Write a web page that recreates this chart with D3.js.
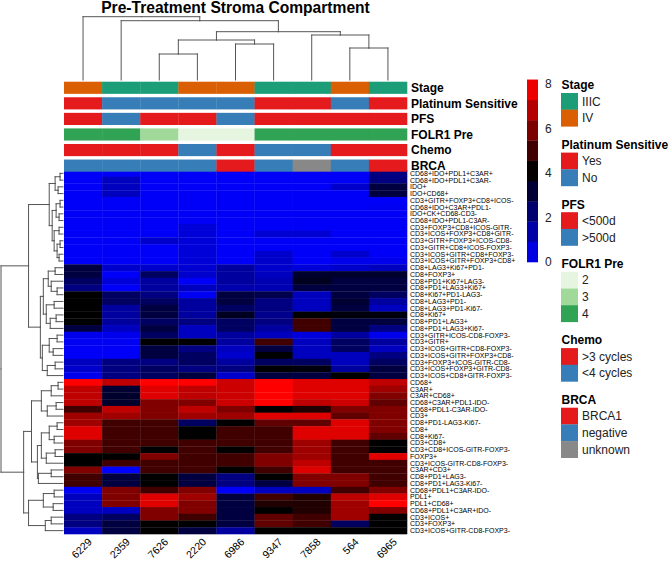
<!DOCTYPE html>
<html>
<head>
<meta charset="utf-8">
<script src="https://cdn.jsdelivr.net/npm/d3@7"></script>
<style>
  body { margin: 0; background: #fff; }
  svg { font-family: "Liberation Sans", Arial, sans-serif; }
</style>
</head>
<body>
<div id="chart"></div>
<script>
// Data
const colNames = ["6229", "2359", "7626", "2220", "6986", "9347", "7858", "564", "6965"];

const rowNames = [
  "CD68+IDO+PDL1+C3AR+", "CD68+IDO+PDL1+C3AR-", "IDO+", "IDO+CD68+",
  "CD3+GITR+FOXP3+CD8+ICOS-", "CD68+IDO+C3AR+PDL1-", "IDO+CK+CD68-CD3-",
  "CD68+IDO+PDL1-C3AR-", "CD3+FOXP3+CD8+ICOS-GITR-", "CD3+ICOS+FOXP3+CD8+GITR-",
  "CD3+GITR+FOXP3+ICOS-CD8-", "CD3+GITR+CD8+ICOS-FOXP3-", "CD3+ICOS+GITR+CD8+FOXP3-",
  "CD3+ICOS+GITR+FOXP3+CD8+", "CD8+LAG3+Ki67+PD1-", "CD8+FOXP3+", "CD8+PD1+Ki67+LAG3-",
  "CD8+PD1+LAG3+Ki67+", "CD8+Ki67+PD1-LAG3-", "CD8+LAG3+PD1-", "CD8+LAG3+PD1-Ki67-",
  "CD8+Ki67+", "CD8+PD1+LAG3+", "CD8+PD1+LAG3+Ki67-", "CD3+GITR+ICOS-CD8-FOXP3-",
  "CD3+GITR+", "CD3+ICOS+GITR+CD8-FOXP3-", "CD3+ICOS+GITR+FOXP3+CD8-",
  "CD3+FOXP3+ICOS-GITR-CD8-", "CD3+ICOS+FOXP3+GITR-CD8-", "CD3+ICOS+CD8+GITR-FOXP3-",
  "CD68+", "C3AR+", "C3AR+CD68+", "CD68+C3AR+PDL1-IDO-", "CD68+PDL1-C3AR-IDO-",
  "CD3+", "CD8+PD1-LAG3-Ki67-", "CD8+", "CD8+Ki67-", "CD3+CD8+",
  "CD3+CD8+ICOS-GITR-FOXP3-", "FOXP3+", "CD3+ICOS-GITR-CD8-FOXP3-", "C3AR+CD3+",
  "CD8+PD1+LAG3-", "CD8+PD1+LAG3-Ki67-", "CD68+PDL1+C3AR-IDO-", "PDL1+", "PDL1+CD68+",
  "CD68+PDL1+C3AR+IDO-", "CD3+ICOS+", "CD3+FOXP3+", "CD3+ICOS+GITR-CD8-FOXP3-"
];

// one array per row, columns in colNames order
const values = [
  [0.1, 0.1, 0.1, 0.1, 0.1, 0.1, 0.1, 0.1, 2.0],
  [0.1, 1.0, 0.1, 0.1, 0.1, 0.1, 0.1, 0.1, 2.0],
  [0.1, 1.0, 0.1, 0.1, 0.1, 0.1, 0.1, 0.8, 3.0],
  [0.1, 1.0, 0.1, 0.1, 0.1, 0.1, 0.1, 0.1, 3.0],
  [0.1, 0.1, 0.1, 0.1, 0.1, 0.1, 0.1, 0.1, 0.1],
  [0.1, 0.1, 0.1, 0.1, 0.1, 0.1, 0.1, 0.1, 0.2],
  [0.1, 0.1, 0.1, 0.1, 0.1, 0.1, 0.1, 0.1, 0.1],
  [0.1, 0.1, 0.1, 0.1, 0.1, 0.1, 0.1, 0.1, 0.1],
  [0.1, 0.1, 0.1, 0.6, 0.1, 0.1, 0.1, 0.1, 0.1],
  [0.1, 0.1, 0.1, 0.6, 0.1, 0.7, 0.7, 0.1, 0.1],
  [0.1, 0.1, 0.8, 0.6, 0.1, 0.1, 0.1, 0.1, 0.1],
  [0.1, 0.1, 0.1, 0.6, 0.1, 0.1, 0.1, 0.1, 0.1],
  [0.1, 0.1, 0.1, 0.6, 0.1, 0.8, 0.1, 0.8, 0.1],
  [0.1, 0.1, 0.1, 0.6, 0.1, 0.8, 0.1, 0.3, 0.3],
  [3.0, 0.8, 0.8, 0.7, 1.5, 0.8, 0.6, 0.8, 1.0],
  [3.0, 0.1, 2.5, 0.8, 1.5, 1.0, 3.3, 3.3, 3.3],
  [2.5, 0.6, 1.5, 0.1, 1.5, 1.2, 3.5, 3.0, 3.0],
  [2.0, 0.1, 1.5, 1.0, 1.3, 1.2, 3.0, 3.0, 3.0],
  [4.0, 2.5, 2.0, 0.2, 3.0, 2.8, 1.0, 3.0, 2.5],
  [4.0, 2.5, 2.5, 1.5, 3.0, 2.0, 1.0, 3.2, 1.5],
  [4.0, 1.5, 3.0, 1.5, 2.5, 2.0, 1.0, 3.0, 1.0],
  [4.0, 1.5, 3.0, 1.5, 3.5, 1.8, 4.0, 3.8, 3.8],
  [4.0, 1.5, 2.5, 2.0, 2.5, 2.0, 5.0, 3.0, 3.0],
  [3.0, 1.0, 3.0, 1.0, 2.5, 1.5, 5.0, 3.0, 2.0],
  [0.3, 0.3, 2.5, 1.0, 1.5, 1.0, 0.5, 1.5, 0.3],
  [0.2, 0.2, 4.0, 4.0, 1.5, 5.0, 1.0, 2.5, 1.5],
  [0.1, 0.1, 3.0, 2.0, 1.0, 3.0, 1.0, 2.5, 1.0],
  [0.1, 0.1, 3.0, 2.5, 0.8, 4.0, 1.0, 1.0, 2.0],
  [1.0, 2.0, 2.0, 2.5, 1.5, 2.5, 2.5, 1.0, 2.5],
  [0.8, 2.0, 2.5, 2.0, 2.0, 4.0, 3.8, 1.5, 3.0],
  [0.3, 2.0, 2.5, 3.0, 0.8, 3.0, 3.0, 4.0, 3.0],
  [8.0, 7.0, 8.0, 8.0, 7.2, 8.0, 7.5, 7.5, 7.0],
  [7.0, 3.2, 7.5, 7.0, 7.2, 8.0, 7.5, 7.5, 6.5],
  [7.0, 3.3, 7.5, 7.0, 7.2, 8.0, 7.5, 7.5, 6.0],
  [7.0, 3.3, 6.0, 6.0, 7.2, 8.0, 7.0, 7.2, 5.5],
  [5.0, 7.0, 6.0, 7.0, 6.0, 4.0, 4.5, 6.0, 6.0],
  [6.5, 6.5, 6.0, 6.5, 6.5, 7.5, 7.5, 5.5, 6.0],
  [6.5, 5.0, 5.0, 2.5, 4.0, 5.5, 5.5, 7.5, 6.0],
  [7.5, 5.0, 5.0, 4.0, 5.0, 5.0, 7.5, 7.5, 6.0],
  [7.5, 5.0, 5.0, 4.0, 5.0, 5.0, 7.5, 7.5, 5.5],
  [6.0, 5.0, 5.0, 5.0, 5.0, 5.0, 6.5, 5.0, 4.0],
  [6.0, 5.0, 4.0, 5.0, 4.0, 5.0, 6.5, 5.0, 4.0],
  [4.0, 4.0, 6.0, 5.0, 5.0, 6.0, 6.5, 5.0, 7.5],
  [4.0, 5.0, 5.0, 5.0, 5.0, 6.0, 7.0, 5.0, 5.0],
  [6.0, 0.0, 5.0, 5.0, 4.0, 5.0, 7.5, 5.0, 5.0],
  [5.0, 3.0, 4.0, 3.0, 2.0, 4.0, 6.0, 6.0, 5.0],
  [5.0, 3.0, 4.0, 3.0, 2.0, 3.0, 6.0, 6.0, 5.0],
  [0.2, 6.0, 5.0, 6.0, 0.1, 1.0, 1.0, 5.0, 6.0],
  [1.0, 6.0, 7.5, 6.5, 3.0, 5.0, 4.5, 7.0, 7.5],
  [1.0, 6.0, 7.5, 6.0, 3.0, 4.5, 4.5, 6.5, 8.0],
  [1.0, 1.0, 6.0, 6.0, 3.0, 4.0, 4.5, 6.5, 6.0],
  [2.0, 2.5, 6.0, 5.0, 3.0, 5.5, 5.0, 6.5, 4.0],
  [2.0, 3.0, 4.0, 4.0, 3.0, 5.5, 5.0, 2.5, 4.0],
  [1.0, 3.0, 4.0, 3.0, 1.5, 4.0, 4.0, 4.0, 4.0]
];

// column annotations (same order as colNames)
const stage = ["IV", "IIIC", "IIIC", "IV", "IV", "IIIC", "IIIC", "IV", "IIIC"];
const platinum = ["Yes", "No", "No", "No", "No", "Yes", "Yes", "No", "Yes"];
const pfs = ["<500d", ">500d", "<500d", "<500d", ">500d", "<500d", "<500d", "<500d", "<500d"];
const folr1 = ["4", "4", "3", "2", "2", "4", "4", "4", "4"];
const chemo = [">3 cycles", ">3 cycles", ">3 cycles", "<4 cycles", ">3 cycles", "<4 cycles", "<4 cycles", ">3 cycles", ">3 cycles"];
const brca = ["negative", "negative", "negative", "negative", "BRCA1", "negative", "unknown", "negative", "BRCA1"];

// dendrograms: [height, left, right], leaves are indices
const colTree = [63.3, 0, [59.3, 1, [48.3, [40, [26, 2, 3], [36, 4, 5]], [45, 6, [32, 7, 8]]]]];
const rowTree = [63,
  [35,
    [14,
      [8, [3, 0, 1], [5, 2, 3]],
      [11, [7, [3, 4, 5], [4, 6, 7]], [9, [4, 8, 9], [6, [3, 10, 11], [4, 12, 13]]]]],
    [23,
      [20, [15, [8, 14, 15], [12, 16, [6, 17, 18]]], [17, [9, 19, 20], [13, [7, 21, 22], 23]]],
      [21, [14, [6, 24, 25], [10, 26, 27]], [16, [8, 28, 29], 30]]]],
  [40,
    [32,
      [22, [12, [5, 31, 32], 33], [16, [7, 34, 35], 36]],
      [26, [22, [14, [6, 37, 38], [9, 39, 40]], [17, [8, 41, 42], 43]], [25, [12, 44, 45], 46]]],
    [35, [20, [9, 47, 48], [10, 49, 50]], [18, [12, 51, 52], 53]]]];

const legendTicks = [0, 2, 4, 6, 8];

// colours
const annColors = {
  "Stage": { "IIIC": "#1b9e77", "IV": "#d95f02" },
  "Platinum Sensitive": { "Yes": "#e41a1c", "No": "#377eb8" },
  "PFS": { "<500d": "#e41a1c", ">500d": "#377eb8" },
  "FOLR1 Pre": { "2": "#e5f5e0", "3": "#a1d99b", "4": "#31a354" },
  "Chemo": { ">3 cycles": "#e41a1c", "<4 cycles": "#377eb8" },
  "BRCA": { "BRCA1": "#e41a1c", "negative": "#377eb8", "unknown": "#888888" }
};
const annotations = [
  ["Stage", stage], ["Platinum Sensitive", platinum], ["PFS", pfs],
  ["FOLR1 Pre", folr1], ["Chemo", chemo], ["BRCA", brca]
];

const width = 669, height = 562;
const hm = { left: 64, right: 407, top: 170, bottom: 534 };

const svg = d3.select("#chart").append("svg")
  .attr("width", width).attr("height", height);

svg.append("rect").attr("width", width).attr("height", height).attr("fill", "#fff");

// scales
const x = d3.scaleBand().domain(d3.range(colNames.length)).range([hm.left, hm.right]);
const y = d3.scaleBand().domain(d3.range(rowNames.length)).range([hm.top, hm.bottom]);
const color = d3.scaleLinear().domain([0, 4, 8]).range(["#0000ff", "#000000", "#ff0000"]).clamp(true);

// title
svg.append("text")
  .attr("x", (hm.left + hm.right) / 2).attr("y", 12.5)
  .attr("text-anchor", "middle")
  .attr("font-size", 15.6).attr("font-weight", "bold")
  .text("Pre-Treatment Stroma Compartment");

// heatmap cells
const cells = [];
values.forEach((row, i) => row.forEach((v, j) => cells.push({ i, j, v })));
svg.append("g").selectAll("rect").data(cells).join("rect")
  .attr("x", d => x(d.j)).attr("y", d => y(d.i))
  .attr("width", x.bandwidth() + 0.3).attr("height", y.bandwidth() + 0.3)
  .attr("fill", d => color(d.v));

// row labels
svg.append("g").selectAll("text").data(rowNames).join("text")
  .attr("x", hm.right + 3)
  .attr("y", (d, i) => y(i) + y.bandwidth() / 2)
  .attr("dy", "0.35em")
  .attr("font-size", 7)
  .text(d => d);

// column labels
svg.append("g").selectAll("text").data(colNames).join("text")
  .attr("transform", (d, j) => `translate(${x(j) + x.bandwidth() / 2 + 4},${hm.bottom + 3}) rotate(-45)`)
  .attr("text-anchor", "end")
  .attr("dy", "0.75em")
  .attr("font-size", 10.5)
  .text(d => d);

// annotation bars
const annY = d3.scaleBand().domain(d3.range(annotations.length)).range([81.7, 81.7 + 15 * annotations.length]).paddingInner(0.22);
annotations.forEach(([name, vals], k) => {
  const g = svg.append("g");
  g.selectAll("rect").data(vals).join("rect")
    .attr("x", (d, j) => x(j)).attr("y", annY(k))
    .attr("width", x.bandwidth() + 0.3).attr("height", annY.bandwidth())
    .attr("fill", d => annColors[name][d]);
  g.append("text")
    .attr("x", hm.right + 4).attr("y", annY(k) + annY.bandwidth() / 2)
    .attr("dy", "0.36em")
    .attr("font-size", 12).attr("font-weight", "bold")
    .text(name);
});

// dendrogram helpers
function layout(node, pos) {
  if (typeof node === "number") return { h: 0, p: pos(node) };
  const a = layout(node[1], pos), b = layout(node[2], pos);
  return { h: node[0], p: (a.p + b.p) / 2, kids: [a, b] };
}
function segments(n, out) {
  if (!n.kids) return out;
  n.kids.forEach(k => {
    out.push({ h0: n.h, p0: k.p, h1: n.h, p1: n.p });   // spine half
    out.push({ h0: n.h, p0: k.p, h1: k.h, p1: k.p });   // arm
    segments(k, out);
  });
  return out;
}

// column dendrogram
const colRoot = layout(colTree, j => x(j) + x.bandwidth() / 2);
const colH = d3.scaleLinear().domain([0, colTree[0]]).range([80, 16.7]);
svg.append("g").selectAll("line").data(segments(colRoot, [])).join("line")
  .attr("x1", d => d.p0).attr("x2", d => d.p1)
  .attr("y1", d => colH(d.h0)).attr("y2", d => colH(d.h1))
  .attr("stroke", "#555").attr("stroke-width", 1).attr("stroke-linecap", "square");

// row dendrogram
const rowRoot = layout(rowTree, i => y(i) + y.bandwidth() / 2);
const rowH = d3.scaleLinear().domain([0, rowTree[0]]).range([hm.left - 1, 1]);
svg.append("g").selectAll("line").data(segments(rowRoot, [])).join("line")
  .attr("y1", d => d.p0).attr("y2", d => d.p1)
  .attr("x1", d => rowH(d.h0)).attr("x2", d => rowH(d.h1))
  .attr("stroke", "#555").attr("stroke-width", 1).attr("stroke-linecap", "square");

// colour bar legend
const legY = d3.scaleLinear().domain([0, 8]).range([262, 84]);
const legMax = 8.2, nBands = 9;
const bands = d3.range(nBands).map(b => [b * legMax / nBands, (b + 1) * legMax / nBands]);
const leg = svg.append("g");
leg.selectAll("rect").data(bands).join("rect")
  .attr("x", 527).attr("width", 11)
  .attr("y", d => legY(d[1])).attr("height", d => legY(d[0]) - legY(d[1]) + 0.3)
  .attr("fill", d => color((d[0] + d[1]) / 2));
const legAxis = svg.append("g")
  .attr("transform", "translate(538,0)")
  .call(d3.axisRight(legY).tickValues(legendTicks).tickSize(0).tickPadding(7).tickFormat(d3.format("d")));
legAxis.select(".domain").remove();
legAxis.selectAll("text").attr("font-size", 12).attr("font-family", "Liberation Sans, Arial, sans-serif").attr("fill", "#222");

// annotation legend
let ly = 85;
annotations.forEach(([name]) => {
  const cats = Object.keys(annColors[name]);
  svg.append("text").attr("x", 561.5).attr("y", ly).attr("dy", "0.36em")
    .attr("font-size", 12).attr("font-weight", "bold").text(name);
  const g = svg.append("g");
  g.selectAll("rect").data(cats).join("rect")
    .attr("x", 561).attr("y", (d, k) => ly + 8 + k * 16.7)
    .attr("width", 17).attr("height", 16.9)
    .attr("fill", d => annColors[name][d]);
  g.selectAll("text").data(cats).join("text")
    .attr("x", 582).attr("y", (d, k) => ly + 8 + k * 16.7 + 8.35).attr("dy", "0.36em")
    .attr("font-size", 12).attr("fill", "#222").text(d => d);
  ly += 8 + cats.length * 16.7 + 18.2;
});
</script>
</body>
</html>
